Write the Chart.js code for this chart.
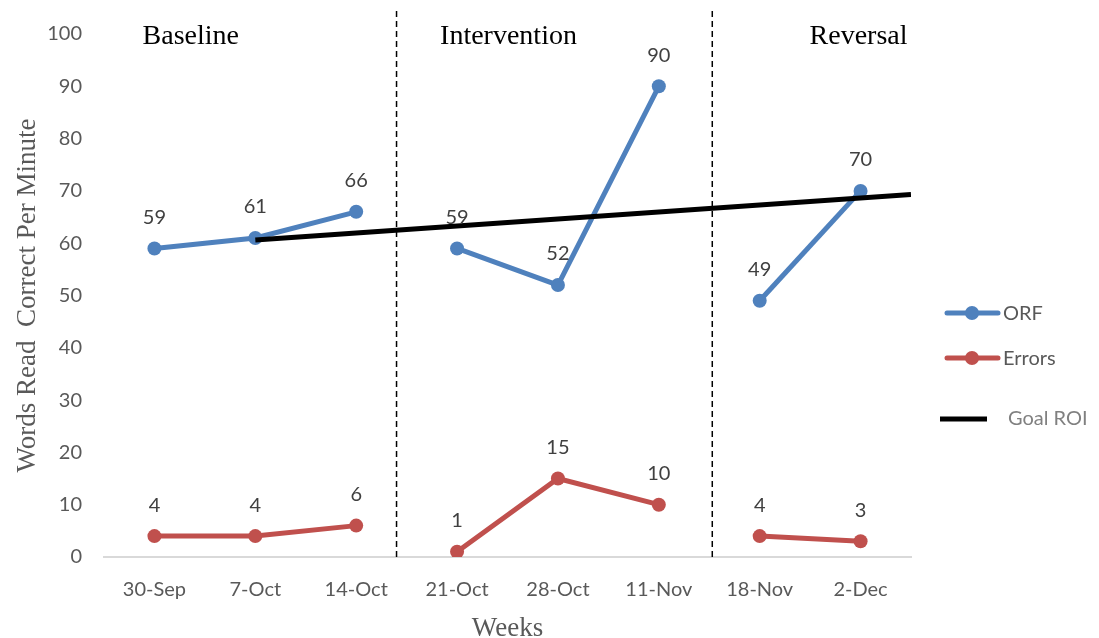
<!DOCTYPE html>
<html>
<head>
<meta charset="utf-8">
<script src="https://cdn.jsdelivr.net/npm/chart.js@4.4.1/dist/chart.umd.min.js"></script>
<style>
  html, body { margin: 0; padding: 0; background: #fff; }
  #wrap { width: 1099px; height: 638px; position: relative; }
</style>
</head>
<body>
<div id="wrap"><canvas id="chart"></canvas></div>
<script>
// data
let weeks = ['30-Sep', '7-Oct', '14-Oct', '21-Oct', '28-Oct', '11-Nov', '18-Nov', '2-Dec'];
let orf = [59, 61, 66, 59, 52, 90, 49, 70];
let errors = [4, 4, 6, 1, 15, 10, 4, 3];
let phaseEnds = [2, 5]; // no line drawn after these indexes
let goalX = [1, 7.5];
let goalY = [60.6, 69.3];
let phaseLines = [2.4, 5.53];
let phaseNames = ['Baseline', 'Intervention', 'Reversal'];
let phaseNameX = [0.36, 3.51, 6.98];
let yTicks = { min: 0, max: 100, step: 10 };

let blue = '#4f81bd';
let red = '#c0504d';
let tickFont = { family: 'Lato', size: 20 };

function seriesSet(label, data, color) {
  return {
    label: label,
    data: data,
    borderColor: color,
    backgroundColor: color,
    borderWidth: 5,
    pointRadius: 7,
    pointHoverRadius: 7,
    pointBorderWidth: 0,
    showLabels: true,
    segment: {
      borderColor: ctx => phaseEnds.includes(ctx.p0DataIndex) ? 'transparent' : color
    }
  };
}

let datasets = [];
phaseLines.forEach(v => {
  datasets.push({
    label: 'phase',
    data: [{ x: v, y: 0 }, { x: v, y: 105 }],
    xAxisID: 'x2',
    borderColor: '#000',
    borderWidth: 1.5,
    borderDash: [6, 4],
    pointRadius: 0,
    clip: false
  });
});
datasets.push({
  label: 'Goal ROI',
  data: goalX.map((x, i) => ({ x: x, y: goalY[i] })),
  xAxisID: 'x2',
  borderColor: '#000',
  borderWidth: 5,
  pointRadius: 0
});
datasets.push(seriesSet('ORF', orf, blue));
datasets.push(seriesSet('Errors', errors, red));

// value labels, phase names and legend
let extras = {
  id: 'extras',
  afterDatasetsDraw(chart) {
    let ctx = chart.ctx;
    ctx.save();
    ctx.font = '20px Lato';
    ctx.fillStyle = '#404040';
    ctx.textAlign = 'center';
    ctx.textBaseline = 'middle';
    chart.data.datasets.forEach((ds, di) => {
      if (!ds.showLabels) return;
      chart.getDatasetMeta(di).data.forEach((pt, i) => {
        ctx.fillText(String(ds.data[i]), pt.x, pt.y - 31);
      });
    });

    let x2 = chart.scales.x2;
    ctx.font = '28px "Liberation Serif"';
    ctx.fillStyle = '#000';
    ctx.textBaseline = 'alphabetic';
    phaseNames.forEach((name, i) => {
      ctx.fillText(name, x2.getPixelForValue(phaseNameX[i]), 44);
    });

    // legend
    let items = [
      { text: 'ORF', color: blue, y: 313 },
      { text: 'Errors', color: red, y: 358 }
    ];
    ctx.font = '20px Lato';
    ctx.textAlign = 'left';
    ctx.textBaseline = 'middle';
    items.forEach(it => {
      ctx.strokeStyle = it.color;
      ctx.lineWidth = 5;
      ctx.lineCap = 'round';
      ctx.beginPath();
      ctx.moveTo(947, it.y);
      ctx.lineTo(998, it.y);
      ctx.stroke();
      ctx.fillStyle = it.color;
      ctx.beginPath();
      ctx.arc(972, it.y, 7, 0, Math.PI * 2);
      ctx.fill();
      ctx.fillStyle = '#595959';
      ctx.fillText(it.text, 1003, it.y + 1);
    });
    ctx.strokeStyle = '#000';
    ctx.lineCap = 'butt';
    ctx.beginPath();
    ctx.moveTo(940, 419);
    ctx.lineTo(987, 419);
    ctx.stroke();
    ctx.fillStyle = '#808080';
    ctx.fillText('Goal ROI', 1008, 419);
    ctx.restore();
  }
};

new Chart(document.getElementById('chart'), {
  type: 'line',
  data: { labels: weeks, datasets: datasets },
  plugins: [extras],
  options: {
    responsive: true,
    maintainAspectRatio: false,
    animation: false,
    events: [],
    layout: { padding: { top: 34, right: 188, bottom: 0, left: 0 } },
    plugins: {
      legend: { display: false },
      tooltip: { enabled: false }
    },
    scales: {
      x: {
        offset: true,
        grid: { display: false },
        border: { display: true, color: '#d9d9d9', width: 2 },
        ticks: { color: '#595959', font: tickFont, padding: 13, maxRotation: 0 },
        title: {
          display: true,
          text: 'Weeks',
          color: '#595959',
          font: { family: 'Liberation Serif', size: 27 },
          padding: { top: 0, bottom: -7 }
        },
        afterFit: s => { s.height = 81; }
      },
      x2: {
        type: 'linear',
        display: false,
        min: -0.5,
        max: 7.5
      },
      y: {
        min: yTicks.min,
        max: yTicks.max,
        grid: { display: false },
        border: { display: false },
        ticks: { stepSize: yTicks.step, color: '#595959', font: tickFont, padding: 14 },
        title: {
          display: true,
          text: 'Words Read  Correct Per Minute',
          color: '#595959',
          font: { family: 'Liberation Serif', size: 27 },
          padding: { top: 12, bottom: 0 }
        },
        afterFit: s => { s.width = 104; }
      }
    }
  }
});
</script>
</body>
</html>
